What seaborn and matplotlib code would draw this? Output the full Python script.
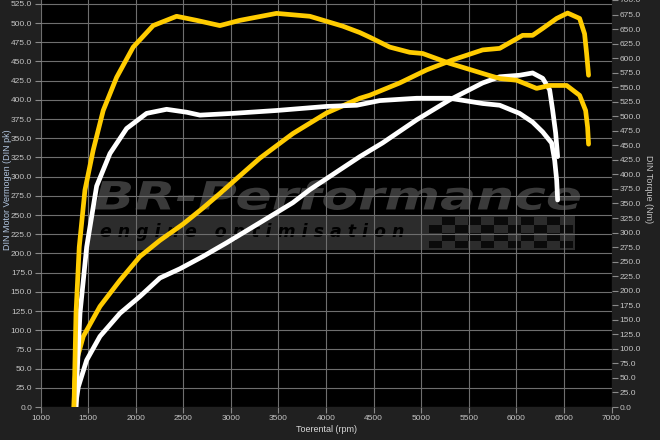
import numpy as np
import pandas as pd
import matplotlib
matplotlib.use('Agg')
import matplotlib.pyplot as plt
import seaborn as sns
from matplotlib.patches import Rectangle, PathPatch
from matplotlib.textpath import TextPath
from matplotlib.font_manager import FontProperties
from matplotlib.transforms import Affine2D

# stock (white) and tuned (yellow) dyno curves
rpm_pk_stock = [1372, 1380, 1397, 1485, 1625, 1835, 2045, 2255, 2465, 2706, 2958,
                3305, 3651, 3830, 4355, 4596, 4953, 5300, 5646, 5825, 6034, 6171,
                6277, 6350, 6381, 6413, 6434]
pk_stock = [0, 12, 26, 61, 92, 122, 144, 168, 180, 196, 214,
            240, 266, 283, 326, 344, 374, 400, 422, 430, 432, 435,
            428, 413, 387, 357, 326]

rpm_pk_tuned = [1352, 1362, 1380, 1450, 1625, 1835, 2045, 2255, 2496, 2706, 2885,
                3021, 3305, 3651, 4008, 4355, 4460, 4775, 5058, 5331, 5646, 5825,
                6066, 6171, 6277, 6424, 6539, 6665, 6717, 6738, 6759]
pk_tuned = [0, 35, 61, 92, 131, 165, 196, 217, 238, 259, 278,
            293, 324, 356, 383, 402, 406, 422, 439, 452, 465, 467,
            484, 484, 493, 506, 513, 506, 486, 461, 432]

rpm_nm_stock = [1372, 1373, 1415, 1485, 1590, 1730, 1905, 2115, 2325, 2535, 2675,
                3021, 3483, 4008, 4323, 4565, 4953, 5300, 5646, 5825, 6034, 6171,
                6277, 6371, 6403, 6424, 6434]
nm_stock = [0, 17, 161, 275, 380, 436, 479, 505, 512, 507, 502,
            505, 510, 517, 519, 527, 531, 531, 522, 519, 505, 490,
            473, 454, 424, 390, 356]

rpm_nm_tuned = [1352, 1373, 1407, 1467, 1554, 1659, 1800, 1974, 2184, 2430, 2640,
                2885, 3095, 3480, 3830, 4176, 4355, 4460, 4670, 4880, 5016, 5300,
                5541, 5720, 5825, 6003, 6213, 6350, 6529, 6665, 6728, 6749, 6759]
nm_tuned = [0, 161, 275, 373, 442, 510, 567, 619, 656, 672, 665,
            656, 665, 677, 672, 655, 644, 636, 619, 610, 608, 591,
            579, 570, 565, 562, 548, 553, 553, 536, 510, 481, 452]

x_ticks = list(range(1000, 7001, 500))
pk_ticks = [v * 25 for v in range(0, 22)]
nm_ticks = [v * 25 for v in range(0, 29)]

yellow = '#FFCC00'
white = '#FFFFFF'
lbl = '#c4c4c4'

plt.rcParams['font.family'] = ['Liberation Sans', 'DejaVu Sans']

fig = plt.figure(figsize=(6.6, 4.4), dpi=100, facecolor='#202020')
ax = fig.add_axes([40.5 / 660, 33 / 440, 571 / 660, 407 / 440])
ax.set_facecolor('black')
ax2 = ax.twinx()

# watermark behind the grid
ax.add_patch(Rectangle((0.083, 0.386), 0.853, 0.086, transform=ax.transAxes,
                       facecolor='#2c2c2c', edgecolor='none', zorder=0.6))
for i in range(11):
    for j in range(4):
        if (i + j) % 2 == 0:
            ax.add_patch(Rectangle((0.68 + i * 0.023, 0.39 + j * 0.019), 0.023, 0.019,
                                   transform=ax.transAxes, facecolor='#0a0a0a',
                                   edgecolor='none', zorder=0.7))

tp = TextPath((0, 0), 'BR-Performance', size=1,
              prop=FontProperties(family='DejaVu Sans', weight='bold', style='italic'))
bb = tp.get_extents()
x0, x1, y0, y1 = 0.095, 0.945, 0.484, 0.558
tr = (Affine2D().translate(-bb.x0, -bb.y0)
      .scale((x1 - x0) / bb.width, (y1 - y0) / bb.height)
      .translate(x0, y0) + ax.transAxes)
ax.add_patch(PathPatch(tp, transform=tr, facecolor='#3a3a3a', edgecolor='none', zorder=0.8))

ax.text(0.105, 0.43, 'e n g i n e   o p t i m i s a t i o n', transform=ax.transAxes,
        ha='left', va='center', fontsize=12.5, fontweight='bold', style='italic',
        color='#000000', family='DejaVu Sans', zorder=0.8)

kw = dict(linewidth=3.4, estimator=None, sort=False, legend=False,
          solid_capstyle='round')
sns.lineplot(x=rpm_pk_stock, y=pk_stock, ax=ax, color=white, zorder=3, **kw)
sns.lineplot(x=rpm_pk_tuned, y=pk_tuned, ax=ax, color=yellow, zorder=3, **kw)
sns.lineplot(x=rpm_nm_stock, y=nm_stock, ax=ax2, color=white, zorder=3, **kw)
sns.lineplot(x=rpm_nm_tuned, y=nm_tuned, ax=ax2, color=yellow, zorder=3, **kw)

ax.set_xlim(1000, 7000)
ax.set_ylim(0, 530)
ax2.set_ylim(0, 700)
ax.set_xticks(x_ticks)
ax.set_xticklabels([str(v) for v in x_ticks])
ax.set_yticks(pk_ticks)
ax.set_yticklabels(['%.1f' % v for v in pk_ticks])
ax2.set_yticks(nm_ticks)
ax2.set_yticklabels(['%.1f' % v for v in nm_ticks])

ax.grid(True, color='#6e6e6e', linewidth=0.8)
ax2.grid(False)
for a in (ax, ax2):
    for s in a.spines.values():
        s.set_visible(False)
    a.tick_params(colors='#8a8a8a', labelcolor=lbl, labelsize=6, length=4, width=0.8, pad=2)

ax.set_xlabel('Toerental (rpm)', color='#d8d8d8', fontsize=6.5, labelpad=2)
ax.set_ylabel('DIN Motor Vermogen (DIN pk)', color='#b0c4de', fontsize=6.5)
ax.yaxis.set_label_coords(-0.05, 0.535)
ax2.set_ylabel('DIN Torque (Nm)', color=lbl, fontsize=6.5, rotation=270, labelpad=8)
ax2.yaxis.set_label_coords(1.072, 0.535)

fig.savefig('out.png', dpi=100, facecolor=fig.get_facecolor())
